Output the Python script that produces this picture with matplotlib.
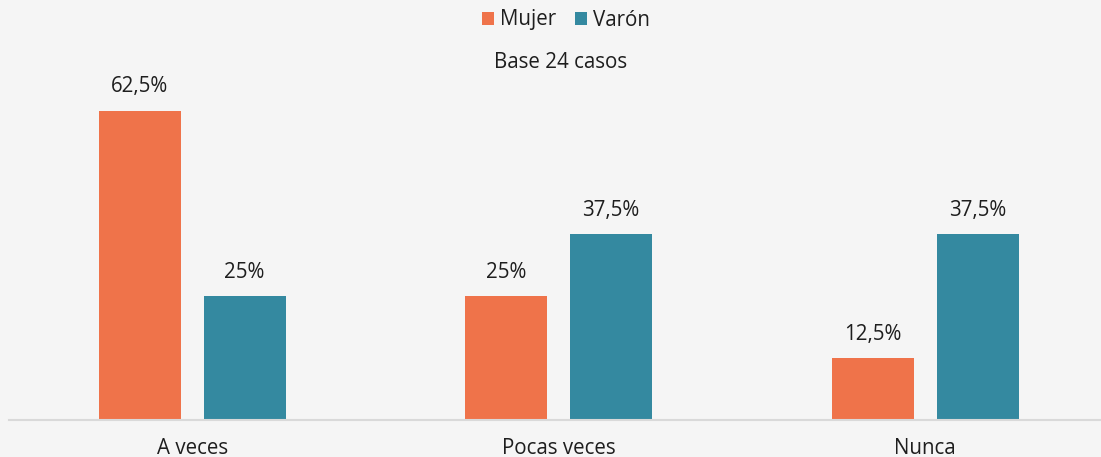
import matplotlib
matplotlib.use("Agg")
import matplotlib.pyplot as plt
import numpy as np
from matplotlib.patches import Patch

categories = ["A veces", "Pocas veces", "Nunca"]
series_names = ["Mujer", "Varón"]
mujer = [62.5, 25, 12.5]
varon = [25, 37.5, 37.5]
mujer_labels = ["62,5%", "25%", "12,5%"]
varon_labels = ["25%", "37,5%", "37,5%"]
subtitle = "Base 24 casos"

colors = ["#EF734A", "#3489A0"]
bg = "#F5F5F5"
txt = "#1E1E1E"
plt.rcParams["font.family"] = ["Open Sans", "DejaVu Sans"]
fs = 14.8

W, H = 1101, 457
fig = plt.figure(figsize=(W / 100, H / 100), dpi=100, facecolor=bg)
ax_left, ax_right = 9, 1101
ax_bottom, ax_top = 420, 73.5
ax = fig.add_axes([ax_left / W, 1 - ax_bottom / H, (ax_right - ax_left) / W, (ax_bottom - ax_top) / H])
ax.set_facecolor(bg)

x = np.arange(len(categories))
bw = 0.224
off = 0.143
b1 = ax.bar(x - off, mujer, bw, color=colors[0])
b2 = ax.bar(x + off, varon, bw, color=colors[1])
ax.set_xlim(-0.5, 2.5 - 7.5 / 366.5)
ax.set_ylim(0, 70)

for bars, labs in ((b1, mujer_labels), (b2, varon_labels)):
    for r, l in zip(bars, labs):
        ax.annotate(l, (r.get_x() + r.get_width() / 2, r.get_height()), xytext=(0, 9.5),
                    textcoords="offset points", ha="center", va="bottom", fontsize=fs, color=txt)

for s in ["top", "right", "left"]:
    ax.spines[s].set_visible(False)
ax.spines["bottom"].set_color("#D9D9D9")
ax.spines["bottom"].set_linewidth(1.5)
ax.set_yticks([])
ax.set_xticks(x)
ax.set_xticklabels(categories, fontsize=fs, color=txt)
ax.tick_params(axis="x", length=0, pad=13)

handles = [Patch(facecolor=c, edgecolor="none") for c in colors]
fig.legend(handles, series_names, loc="center", bbox_to_anchor=(566 / W, 1 - 20 / H), ncol=2,
           frameon=False, fontsize=fs, handlelength=0.6, handleheight=0.6, handletextpad=0.3,
           columnspacing=0.9, labelcolor=txt)
fig.text(561 / W, 1 - 62 / H, subtitle, ha="center", va="center", fontsize=fs, color=txt)

fig.savefig("out.png", dpi=100, facecolor=bg)
